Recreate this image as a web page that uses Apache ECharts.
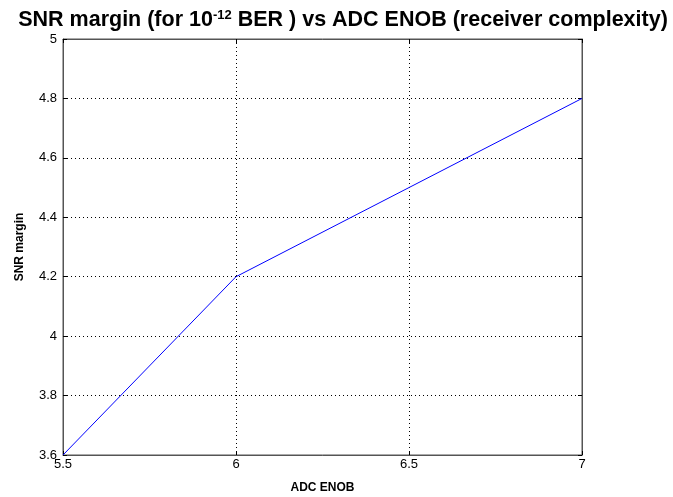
<!DOCTYPE html>
<html>
<head>
<meta charset="utf-8">
<script src="https://cdn.jsdelivr.net/npm/echarts@6/dist/echarts.min.js"></script>
<style>
  html, body { margin: 0; padding: 0; background: #fff; }
  #chart { width: 673px; height: 497px; }
</style>
</head>
<body>
<div id="chart"></div>
<script>
// data
var enob = [5.5, 6, 6.5, 7];
var snrMargin = [3.6, 4.2, 4.5, 4.8];
var xTicks = [5.5, 6, 6.5, 7];
var yTicks = [3.6, 3.8, 4, 4.2, 4.4, 4.6, 4.8, 5];

var font = "Liberation Sans, Arial, sans-serif";
var frameColor = "#555";

var chart = echarts.init(document.getElementById("chart"));

var dotted = { show: true, lineStyle: { color: "#000", width: 1, type: [1, 3] } };

chart.setOption({
  animation: false,
  title: {
    text: "SNR margin (for 10{sup|-12} BER ) vs ADC ENOB (receiver complexity)",
    left: 338,
    textAlign: "center",
    top: 4,
    textStyle: {
      fontFamily: font,
      fontSize: 21.5,
      fontWeight: "bold",
      color: "#000",
      rich: {
        sup: { fontFamily: font, fontSize: 13, fontWeight: "bold", padding: [0, 0, 9, 0] }
      }
    }
  },
  grid: {
    left: 63, right: 91, top: 39, bottom: 42,
    outerBoundsMode: "none",
    containLabel: false,
    show: true, borderColor: frameColor, borderWidth: 1
  },
  xAxis: [{
    type: "value",
    min: 5.5, max: 7, interval: 0.5,
    name: "ADC ENOB",
    nameLocation: "middle",
    nameGap: 27,
    nameTextStyle: { fontFamily: font, fontSize: 12, fontWeight: "bold", color: "#000" },
    axisLine: { lineStyle: { color: frameColor } },
    axisTick: { inside: true, length: 4, lineStyle: { color: "#000" } },
    axisLabel: {
      fontFamily: font, fontSize: 13, color: "#000", margin: 3,
      formatter: function (v) { return xTicks.indexOf(v) >= 0 ? String(v) : ""; }
    },
    splitLine: dotted
  }, {
    type: "value", position: "top",
    min: 5.5, max: 7, interval: 0.5,
    axisLine: { show: true, lineStyle: { color: frameColor } },
    axisTick: { inside: true, length: 4, lineStyle: { color: "#000" } },
    axisLabel: { show: false },
    splitLine: { show: false }
  }],
  yAxis: [{
    type: "value",
    min: 3.6, max: 5, interval: 0.2,
    name: "SNR margin",
    nameLocation: "middle",
    nameGap: 37,
    nameTextStyle: { fontFamily: font, fontSize: 12, fontWeight: "bold", color: "#000" },
    axisLine: { show: true, lineStyle: { color: frameColor } },
    axisTick: { inside: true, length: 4, lineStyle: { color: "#000" } },
    axisLabel: {
      fontFamily: font, fontSize: 13, color: "#000", margin: 6,
      formatter: function (v) {
        var r = Math.round(v * 10) / 10;
        return yTicks.indexOf(r) >= 0 ? String(r) : "";
      }
    },
    splitLine: dotted
  }, {
    type: "value", position: "right",
    min: 3.6, max: 5, interval: 0.2,
    axisLine: { show: true, lineStyle: { color: frameColor } },
    axisTick: { inside: true, length: 4, lineStyle: { color: "#000" } },
    axisLabel: { show: false },
    splitLine: { show: false }
  }],
  series: [{
    type: "line",
    data: enob.map(function (x, i) { return [x, snrMargin[i]]; }),
    showSymbol: false,
    lineStyle: { color: "#0000ff", width: 1 }
  }]
});
</script>
</body>
</html>
